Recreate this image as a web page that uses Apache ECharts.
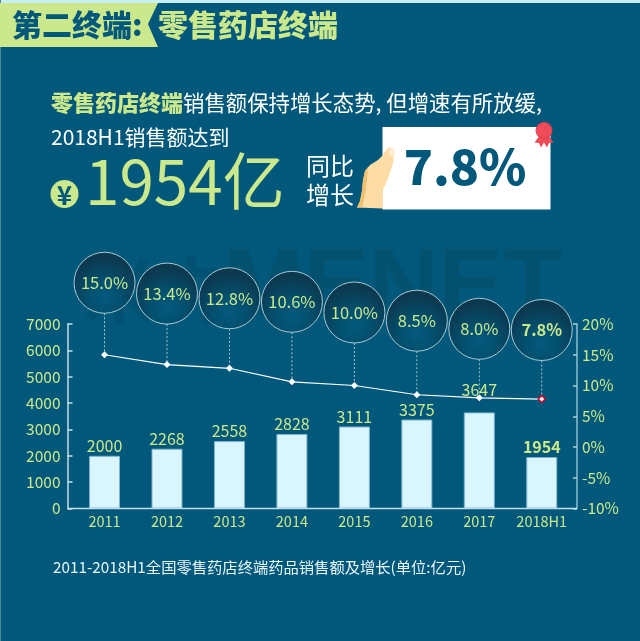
<!DOCTYPE html>
<html>
<head>
<meta charset="utf-8">
<title>零售药店终端</title>
<style>
  html, body { margin: 0; padding: 0; background: #02587a; }
  #chart { width: 640px; height: 641px; }
</style>
<script src="https://cdn.jsdelivr.net/npm/echarts@6/dist/echarts.min.js"></script>
</head>
<body>
<div id="chart"></div>
<script>
// 数据
//-----
var categories = ['2011', '2012', '2013', '2014', '2015', '2016', '2017', '2018H1'];
var salesValues = [2000, 2268, 2558, 2828, 3111, 3375, 3647, 1954];
var growthValues = [15.0, 13.4, 12.8, 10.6, 10.0, 8.5, 8.0, 7.8];

var FONT = '"Noto Sans CJK SC", "Noto Sans", sans-serif';
var BG = '#02587a';
var GREEN = '#cbe98c';
var BAR = '#d9f6fe';

// 气泡相对折线点上移的距离
var bubbleLift = [72, 71, 70, 80, 73, 74, 69, 69];
var bubbleRadius = 30.5;

var myChart = echarts.init(document.getElementById('chart'), null, { renderer: 'canvas' });

function text(x, y, str, size, color, weight, align) {
  return {
    type: 'text', x: x, y: y, z: 10,
    style: {
      text: str, fill: color, fontFamily: FONT, fontSize: size,
      fontWeight: weight || 'normal', align: align || 'left', verticalAlign: 'middle'
    }
  };
}

function poly(points, color, smooth) {
  return { type: 'polygon', z: 10, shape: { points: points, smooth: smooth || 0 }, style: { fill: color } };
}

// 页面装饰：标题、说明文字、卡片
//-------------------------------
var decor = [
  { type: 'rect', z: 0, shape: { x: 0, y: 0, width: 640, height: 3 }, style: { fill: '#c6f0f6' } },
  { type: 'rect', z: 0, shape: { x: 0, y: 0, width: 1, height: 641 }, style: { fill: '#4d88a2' } },
  poly([[0, 3], [158, 3], [148, 24], [158, 47], [0, 47]], GREEN),
  text(12, 25, '第二终端', 30, BG, 900),
  text(132, 25, ':', 30, BG, 900),
  text(158, 25, '零售药店终端', 30, GREEN, 900),

  text(51, 103, '零售药店终端', 22, GREEN, 900),
  text(183, 103, '销售额保持增长态势, 但增速有所放缓,', 21.4, '#ffffff'),
  text(51, 137, '2018H1销售额达到', 21, '#ffffff'),

  { type: 'circle', z: 10, shape: { cx: 64.5, cy: 194, r: 14 }, style: { fill: GREEN } },
  text(64.5, 195, '¥', 26, BG, 'bold', 'center'),
  text(85, 181, '1954亿', 62, GREEN),

  text(306, 166, '同比', 24, '#ffffff'),
  text(306, 195, '增长', 24, '#ffffff'),

  // 白色卡片
  { type: 'rect', z: 9, shape: { x: 382.5, y: 127, width: 168, height: 82.5 }, style: { fill: '#ffffff' } },
  text(465, 167, '7.8%', 48, BG, 900, 'center'),

  // 手
  poly([[357, 207.5], [360, 201], [362, 191], [363, 180], [365, 171], [370, 165], [378, 160], [382, 156],
    [385, 151], [389, 147.5], [393, 148], [394.5, 152], [393, 163], [389, 176], [383, 190], [383, 208.5]], '#fddca6'),
  poly([[357, 207.5], [360, 201], [362, 191], [363, 180], [365, 171], [368, 167], [367, 180], [365, 195], [362, 207.5]], '#f1bf70'),
  poly([[390, 149], [393, 148.5], [394, 152], [393, 157], [390, 155], [389, 152]], '#fdeed6'),

  // 奖章
  poly([[540, 135], [534.5, 142.5], [539, 143], [541, 147.5], [546, 139]], '#f04b58'),
  poly([[548, 135], [553.5, 142.5], [549, 143], [547, 147.5], [542, 139]], '#f04b58'),
  { type: 'circle', z: 10, shape: { cx: 544, cy: 130.5, r: 8 }, style: { fill: '#f04b58', stroke: '#d8404e', lineWidth: 1 } },

  // 水印
  {
    type: 'text', x: 83, y: 290, z: 0,
    style: {
      text: '米内', fill: 'rgba(0,45,60,0.13)', fontFamily: FONT, fontSize: 72,
      fontWeight: 'bold', verticalAlign: 'middle'
    }
  },
  {
    type: 'text', x: 223, y: 289, z: 0,
    style: {
      text: 'MENET', fill: 'rgba(0,45,60,0.17)', fontFamily: '"Liberation Sans", sans-serif', fontSize: 97,
      fontWeight: 'bold', verticalAlign: 'middle'
    }
  },

  // 横轴线
  { type: 'line', z: 3, shape: { x1: 67.5, y1: 508.5, x2: 577, y2: 508.5 }, style: { stroke: '#c4dfe9', lineWidth: 1.5 } },

  text(53, 567, '2011-2018H1全国零售药店终端药品销售额及增长(单位:亿元)', 15.3, '#e8f6fa')
];

// 气泡与虚线
//-----------
function renderBubble(params, api) {
  var i = params.dataIndex;
  var pt = api.coord([api.value(0), api.value(1)]);
  var cy = pt[1] - bubbleLift[i];
  var isLast = i === categories.length - 1;
  return {
    type: 'group',
    children: [
      {
        type: 'line',
        shape: { x1: pt[0], y1: cy + bubbleRadius, x2: pt[0], y2: pt[1] },
        style: { stroke: '#9cc6d6', lineWidth: 1, lineDash: [2, 2] }
      },
      {
        type: 'circle',
        shape: { cx: pt[0], cy: cy, r: bubbleRadius },
        style: {
          stroke: '#a9c9d4',
          lineWidth: 1,
          fill: new echarts.graphic.RadialGradient(0.5, 0.72, 0.75, [
            { offset: 0, color: '#035a7e' },
            { offset: 0.35, color: '#03506f' },
            { offset: 0.75, color: '#0a3d55' },
            { offset: 1, color: '#0d3548' }
          ])
        }
      },
      {
        type: 'text',
        x: pt[0], y: cy,
        style: {
          text: api.value(1).toFixed(1) + '%',
          fill: GREEN,
          fontFamily: FONT,
          fontSize: 16.5,
          fontWeight: isLast ? 'bold' : 'normal',
          align: 'center',
          verticalAlign: 'middle'
        }
      }
    ]
  };
}

var barData = salesValues.map(function(v, i) {
  var item = { value: v };
  if (i === 6) {
    item.label = { distance: 14 };
  }
  if (i === 7) {
    item.label = { fontWeight: 'bold' };
  }
  return item;
});

var lineData = growthValues.map(function(v, i) {
  if (i === 7) {
    return { value: v, itemStyle: { color: '#ffffff', borderColor: '#d6002a', borderWidth: 1.5 } };
  }
  return v;
});

var option = {
  backgroundColor: BG,
  animation: false,
  textStyle: { fontFamily: FONT },
  graphic: decor,
  grid: { left: 73.3, right: 67, top: 324, bottom: 132.5 },
  xAxis: {
    type: 'category',
    data: categories,
    axisLine: { show: false },
    axisTick: { show: false },
    axisLabel: { color: GREEN, fontSize: 14.5, margin: 6, interval: 0, fontFamily: FONT }
  },
  yAxis: [
    {
      type: 'value', min: 0, max: 7000, interval: 1000, offset: 5.8,
      axisLine: { show: true, lineStyle: { color: '#c4dfe9', width: 1.5 } },
      axisTick: { show: true, inside: true, length: 5, lineStyle: { color: '#c4dfe9', width: 1.5 } },
      axisLabel: {
        color: GREEN, fontSize: 15.5, margin: 7, fontFamily: FONT,
        formatter: function(v) { return String(v); }
      },
      splitLine: { show: false }
    },
    {
      type: 'value', min: -10, max: 20, interval: 5, offset: 4, position: 'right',
      axisLine: { show: true, lineStyle: { color: '#8fbccf', width: 1.5 } },
      axisTick: { show: true, inside: true, length: 4, lineStyle: { color: '#a8cedb', width: 1.5 } },
      axisLabel: { color: GREEN, fontSize: 15.5, margin: 5, fontFamily: FONT, formatter: '{value}%' },
      splitLine: { show: false }
    }
  ],
  series: [
    {
      name: '销售额',
      type: 'bar',
      data: barData,
      barWidth: 31,
      z: 2,
      itemStyle: { color: BAR, borderColor: '#7fb3c6', borderWidth: 1 },
      label: { show: true, position: 'top', distance: 2, color: GREEN, fontSize: 16, fontFamily: FONT }
    },
    {
      name: '增长气泡',
      type: 'custom',
      yAxisIndex: 1,
      z: 3,
      renderItem: renderBubble,
      encode: { x: 0, y: 1 },
      data: growthValues.map(function(v, i) { return [i, v]; })
    },
    {
      name: '增长',
      type: 'line',
      yAxisIndex: 1,
      data: lineData,
      z: 4,
      symbol: 'diamond',
      symbolSize: 7,
      lineStyle: { color: '#ffffff', width: 1.2 },
      itemStyle: { color: '#ffffff' }
    }
  ]
};

myChart.setOption(option);
</script>
</body>
</html>
